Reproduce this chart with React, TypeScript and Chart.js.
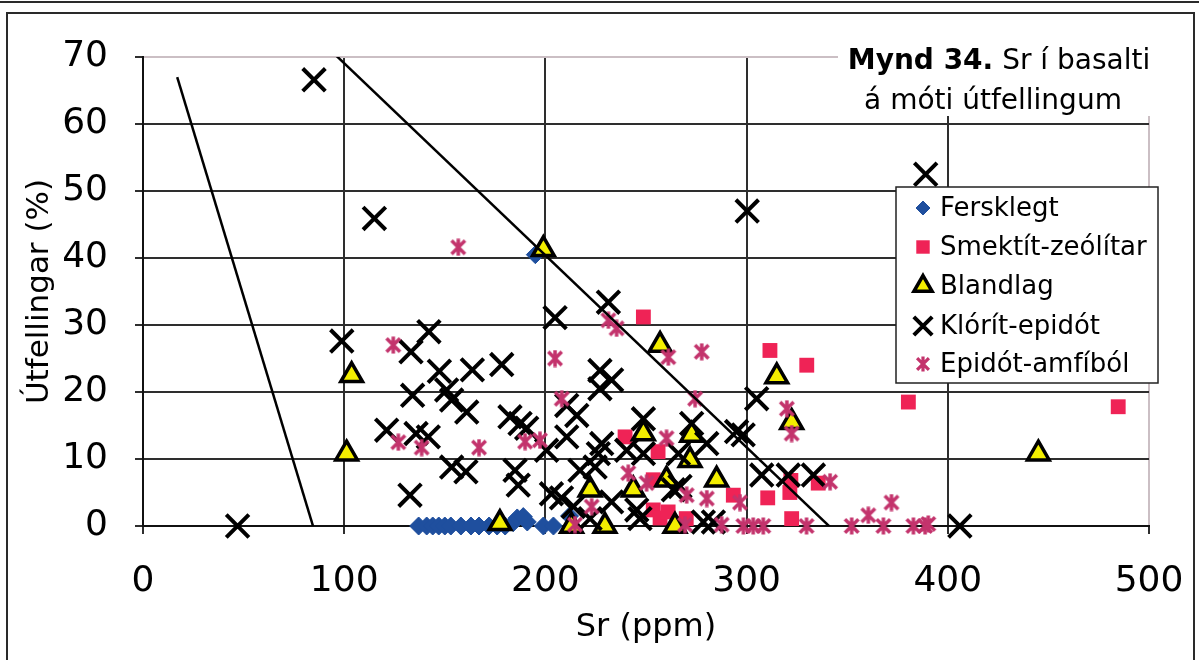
import React, { useEffect, useRef } from 'react';
import { Chart, registerables } from 'chart.js';
import { drawPoint } from 'chart.js/helpers';

Chart.register(...registerables);

const FONT = "'DejaVu Sans', 'Liberation Sans', sans-serif";

// ---- data (Sr ppm, Útfellingar %) ----
const seriesLabels = ['Fersklegt', 'Smektít-zeólítar', 'Blandlag', 'Klórít-epidót', 'Epidót-amfíból'];

const fersklegt: [number, number][] = [
  [137, 0], [141, 0], [144, 0], [147, 0], [150, 0], [153, 0], [158, 0], [163, 0], [167, 0],
  [172, 0], [176, 0], [180, 0], [184, 0.5], [186, 1.2], [189, 1.4], [191, 0.6], [199, 0],
  [204, 0], [212, 1.5], [195, 40.5],
];

const smektit: [number, number][] = [
  [248.7, 31.2], [311.6, 26.2], [329.9, 24.0], [380.4, 18.5], [484.7, 17.8], [239.6, 13.3],
  [256, 11.1], [253.6, 6.9], [293.4, 4.6], [310.5, 4.2], [322, 6.8], [321.5, 5.0], [335.6, 6.4],
  [322.4, 1.1], [253.6, 2.4], [257, 1.2], [261, 2.1], [270, 1.1], [266, 0.4],
];

const blandlag: [number, number][] = [
  [199, 41.3], [103.7, 22.5], [101.2, 10.8], [177.4, 0.4], [257, 27], [315, 22.3], [322.4, 15.5],
  [445, 10.8], [248.7, 13.8], [272.7, 13.6], [271.9, 9.8], [285.1, 6.9], [222.2, 5.4],
  [243.7, 5.4], [260.2, 6.9], [229.6, 0], [213, 0], [264.4, 0],
];

const klorit: [number, number][] = [
  [85, 66.6], [115, 45.9], [300.3, 47], [389, 52.5], [47, 0], [406, 0], [98.8, 27.6], [133.2, 26],
  [142.1, 29], [147.3, 23.1], [163.7, 23.3], [178.3, 24.1], [134, 19.5], [150.9, 20.3],
  [153.4, 18.8], [160.9, 17], [182.4, 16.3], [187.4, 15.3], [190.7, 14.6], [121.1, 14.3],
  [135.7, 13.8], [141.8, 13.3], [153.4, 8.8], [160.5, 8.1], [184.9, 8.3], [186.5, 6.1],
  [132.7, 4.6], [204.8, 31.1], [231.3, 33.4], [227.1, 23.2], [232.9, 21.8], [227.1, 20.5],
  [210.6, 18], [215.6, 16.5], [248.7, 16], [272.7, 15.3], [295, 14.1], [298.3, 13.6], [305, 19],
  [210.6, 13.3], [200.6, 11.3], [228, 12.3], [226.3, 10.8], [240.4, 11.3], [248.7, 10.8],
  [266.1, 10.8], [280.2, 12.3], [217.2, 8.3], [224.7, 8.8], [203, 4.8], [208, 4.2], [263.6, 5.4],
  [266.9, 5.9], [213.9, 2.9], [232.9, 3.6], [245.4, 2.4], [247, 1.1], [222.2, 1.1], [278.5, 0.6],
  [283.5, 0.6], [307.5, 7.6], [320.7, 7.6], [333.2, 7.6],
];

const epidot: [number, number][] = [
  [156.7, 41.6], [124.4, 27], [126.9, 12.5], [138.5, 11.7], [167, 11.7], [189.9, 12.6],
  [197.3, 12.8], [231.3, 30.7], [235.4, 29.5], [261.1, 25.2], [277.7, 26], [204.8, 25],
  [208.1, 19], [274.4, 19], [260.2, 13.1], [241.2, 7.9], [250.3, 6.4], [270.2, 4.6], [280.2, 4.1],
  [296.7, 3.5], [223, 2.9], [214.7, 0.2], [269.4, 0.2], [287.6, 0.2], [298.4, 0], [303.3, 0],
  [308.3, 0], [329.8, 0], [320, 17.5], [322.4, 13.8], [341.5, 6.6], [352.2, 0], [360.5, 1.6],
  [368, 0], [372, 3.5], [382.9, 0], [388.7, 0], [390.3, 0.3],
];

const boundaryLeft: [number, number][] = [[17, 67], [85, -0.5]];
const boundaryRight: [number, number][] = [[95, 70.5], [342, -0.3]];

const titleLine1Bold = 'Mynd 34.';
const titleLine1Rest = ' Sr í basalti';
const titleLine2 = 'á móti útfellingum';
const xAxisTitle = 'Sr (ppm)';
const yAxisTitle = 'Útfellingar (%)';

const BLUE = '#1f4f9e';
const RED = '#ef2356';
const YELLOW = '#f3ee00';
const MAGENTA = '#c3336c';

function makeStar(size: number, color: string, lw: number): HTMLCanvasElement {
  const c = document.createElement('canvas');
  c.width = size;
  c.height = size;
  const g = c.getContext('2d')!;
  g.strokeStyle = color;
  g.lineWidth = lw;
  const m = lw / 2 + 0.5;
  g.beginPath();
  g.moveTo(m, m);
  g.lineTo(size - m, size - m);
  g.moveTo(size - m, m);
  g.lineTo(m, size - m);
  g.moveTo(size / 2, 0.5);
  g.lineTo(size / 2, size - 0.5);
  g.stroke();
  return c;
}

const pts = (a: [number, number][]) => a.map(([x, y]) => ({ x, y }));

export default function App() {
  const ref = useRef<HTMLCanvasElement>(null);

  useEffect(() => {
    document.body.style.margin = '0';
    const canvas = ref.current!;
    const star = makeStar(18, MAGENTA, 3.5);
    const starSmall = makeStar(16, MAGENTA, 3.2);

    const legendStyles: any[] = [
      { pointStyle: 'rectRot', radius: 7, bg: BLUE, border: BLUE, borderWidth: 1 },
      { pointStyle: 'rect', radius: 9.5, bg: RED, border: RED, borderWidth: 0 },
      { pointStyle: 'triangle', radius: 10.5, bg: YELLOW, border: '#000', borderWidth: 3.5 },
      { pointStyle: 'crossRot', radius: 13, bg: '#000', border: '#000', borderWidth: 4 },
      { pointStyle: starSmall, radius: 8, bg: MAGENTA, border: MAGENTA, borderWidth: 0 },
    ];

    const decor = {
      id: 'decor',
      beforeDraw(chart: any) {
        const ctx = chart.ctx;
        ctx.save();
        ctx.fillStyle = '#fff';
        ctx.fillRect(0, 0, chart.width, chart.height);
        ctx.strokeStyle = '#2a2a2a';
        ctx.lineWidth = 2;
        ctx.beginPath();
        ctx.moveTo(0, 2);
        ctx.lineTo(chart.width, 2);
        ctx.stroke();
        ctx.strokeRect(7, 13, 1187, 660);
        ctx.restore();
      },
      afterDraw(chart: any) {
        const ctx = chart.ctx;
        ctx.save();
        // title box
        ctx.fillStyle = '#fff';
        ctx.fillRect(838, 36, 322, 80);
        ctx.fillStyle = '#000';
        ctx.textBaseline = 'alphabetic';
        ctx.font = `bold 28px ${FONT}`;
        const wb = ctx.measureText(titleLine1Bold).width;
        ctx.font = `28px ${FONT}`;
        const wr = ctx.measureText(titleLine1Rest).width;
        const x0 = 999 - (wb + wr) / 2;
        ctx.font = `bold 28px ${FONT}`;
        ctx.textAlign = 'left';
        ctx.fillText(titleLine1Bold, x0, 69);
        ctx.font = `28px ${FONT}`;
        ctx.fillText(titleLine1Rest, x0 + wb, 69);
        ctx.textAlign = 'center';
        ctx.fillText(titleLine2, 993, 109);

        // legend
        const lx = 896, ly = 187, lw = 262, lh = 196;
        ctx.fillStyle = '#fff';
        ctx.fillRect(lx, ly, lw, lh);
        ctx.strokeStyle = '#222';
        ctx.lineWidth = 1.5;
        ctx.strokeRect(lx, ly, lw, lh);
        const rows = [208, 247, 286, 326, 364];
        seriesLabels.forEach((label, i) => {
          const st = legendStyles[i];
          ctx.fillStyle = st.bg;
          ctx.strokeStyle = st.border;
          ctx.lineWidth = st.borderWidth;
          drawPoint(ctx, { pointStyle: st.pointStyle, radius: st.radius, rotation: 0, borderWidth: st.borderWidth }, 923, rows[i]);
          ctx.fillStyle = '#000';
          ctx.font = `26px ${FONT}`;
          ctx.textAlign = 'left';
          ctx.textBaseline = 'middle';
          ctx.fillText(label, 940, rows[i] + 1);
        });
        ctx.restore();
      },
    };

    const gridColor = (edge: number) => (c: any) =>
      c.tick && c.tick.value === edge ? '#cbbfc4' : '#2e2e2e';

    const chart = new Chart(canvas, {
      type: 'scatter',
      data: {
        datasets: [
          {
            label: 'boundary-left', data: pts(boundaryLeft), showLine: true, borderColor: '#000',
            borderWidth: 2.5, pointRadius: 0, order: 0,
          },
          {
            label: 'boundary-right', data: pts(boundaryRight), showLine: true, borderColor: '#000',
            borderWidth: 2.5, pointRadius: 0, order: 0,
          },
          {
            label: seriesLabels[4], data: pts(epidot), pointStyle: star as any, pointRadius: 9,
            backgroundColor: MAGENTA, borderColor: MAGENTA, order: 1, clip: false,
          },
          {
            label: seriesLabels[3], data: pts(klorit), pointStyle: 'crossRot', pointRadius: 16,
            borderColor: '#000', backgroundColor: '#000', pointBorderWidth: 4, order: 2, clip: false,
          },
          {
            label: seriesLabels[2], data: pts(blandlag), pointStyle: 'triangle', pointRadius: 12.5,
            backgroundColor: YELLOW, borderColor: '#000', pointBorderWidth: 3.5, order: 3, clip: false,
          },
          {
            label: seriesLabels[1], data: pts(smektit), pointStyle: 'rect', pointRadius: 10.5,
            backgroundColor: RED, borderColor: RED, pointBorderWidth: 0, order: 4, clip: false,
          },
          {
            label: seriesLabels[0], data: pts(fersklegt), pointStyle: 'rectRot', pointRadius: 9,
            backgroundColor: BLUE, borderColor: BLUE, pointBorderWidth: 1, order: 5, clip: false,
          },
        ] as any,
      },
      options: {
        responsive: false,
        animation: false,
        events: [],
        layout: { padding: { top: 57, right: 50, left: 0, bottom: 0 } },
        plugins: {
          legend: { display: false },
          tooltip: { enabled: false },
        },
        scales: {
          x: {
            type: 'linear', min: 0, max: 500,
            ticks: { stepSize: 100, color: '#000', padding: 26, font: { size: 36, family: FONT } },
            grid: { color: gridColor(500), lineWidth: 2, tickLength: 8, tickColor: '#2e2e2e' },
            border: { color: '#111', width: 2 },
            title: {
              display: true, text: xAxisTitle, color: '#000',
              font: { size: 32, family: FONT }, padding: { top: 0, bottom: 13 },
            },
            afterFit: (s: any) => { s.height = 134; s.paddingLeft = 0; s.paddingRight = 0; },
          },
          y: {
            type: 'linear', min: 0, max: 70,
            ticks: { stepSize: 10, color: '#000', padding: 27, font: { size: 36, family: FONT } },
            grid: { color: gridColor(70), lineWidth: 2, tickLength: 8, tickColor: '#2e2e2e' },
            border: { color: '#111', width: 2 },
            title: {
              display: true, text: yAxisTitle, color: '#000',
              font: { size: 31, family: FONT }, padding: { top: 21, bottom: 0 },
            },
            afterFit: (s: any) => { s.width = 143; s.paddingTop = 0; s.paddingBottom = 0; },
          },
        },
      } as any,
      plugins: [decor],
    });
    return () => chart.destroy();
  }, []);

  return <canvas ref={ref} width={1199} height={660} style={{ display: 'block' }} />;
}
